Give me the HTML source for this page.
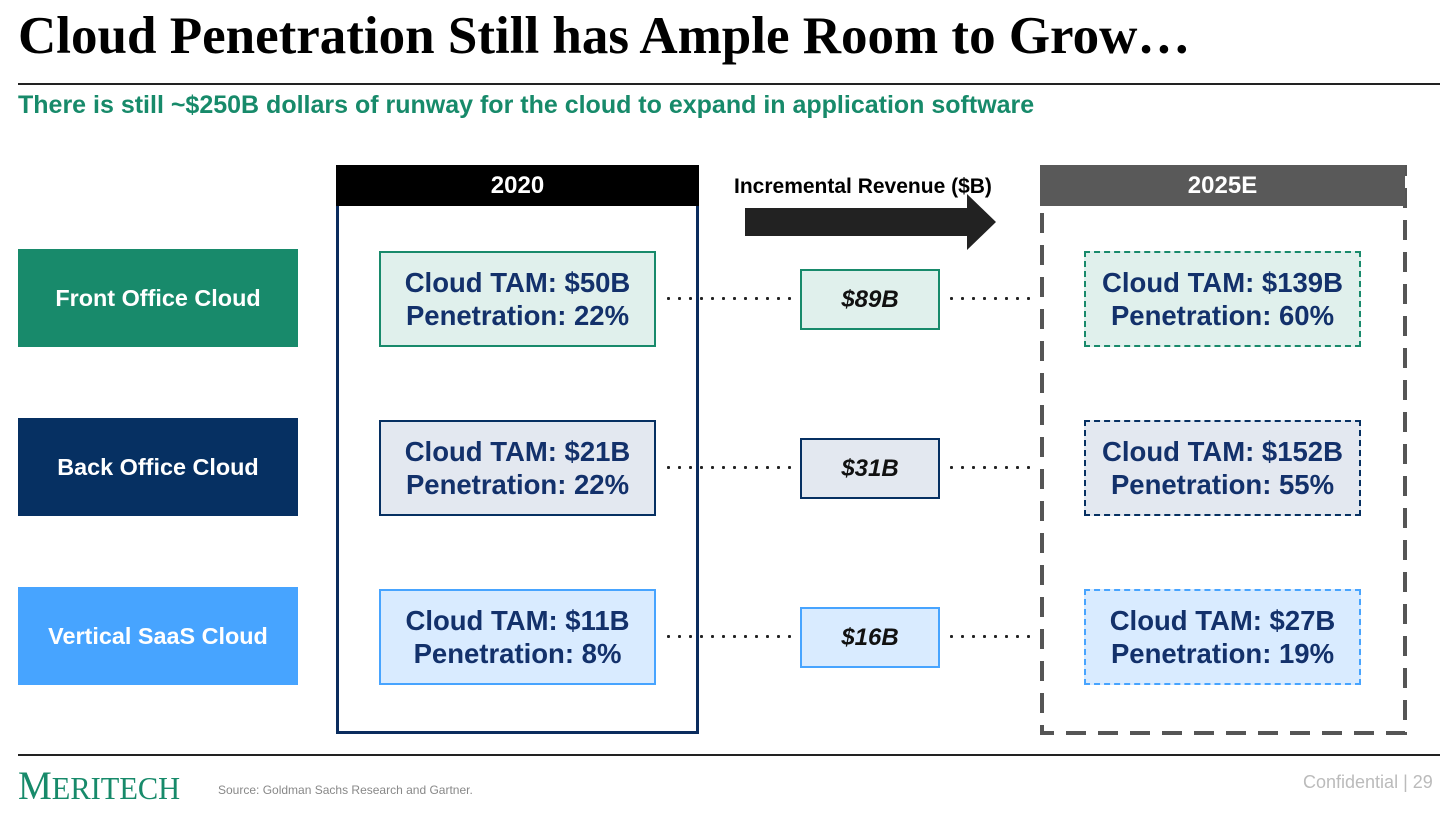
<!DOCTYPE html>
<html><head><meta charset="utf-8"><style>
body{margin:0;width:1456px;height:813px;background:#fff;position:relative;overflow:hidden;font-family:"Liberation Sans",Arial,sans-serif}
div{position:absolute;box-sizing:border-box}
.lab{left:18px;width:280px;height:98px;color:#fff;font-weight:bold;font-size:23.4px;display:flex;align-items:center;justify-content:center}
.tam{width:277px;height:96px;color:#13316b;font-weight:bold;font-size:27.5px;line-height:33px;display:flex;flex-direction:column;align-items:center;justify-content:center;text-align:center}
.inc{left:800px;width:140px;height:61px;color:#111;font-weight:bold;font-style:italic;font-size:24px;display:flex;align-items:center;justify-content:center}
.dot{height:3px;background:radial-gradient(circle at 1.5px 1.5px,#222 1.5px,transparent 1.6px);background-size:11px 3px}
</style></head><body>
<div style="left:18px;top:6px;font-family:'Liberation Serif',serif;font-weight:bold;font-size:53px;white-space:nowrap">Cloud Penetration Still has Ample Room to Grow…</div>
<div style="left:18px;top:83px;width:1422px;height:2px;background:#222"></div>
<div style="left:18px;top:91px;color:#178a6a;font-weight:bold;font-size:25px;white-space:nowrap">There is still ~$250B dollars of runway for the cloud to expand in application software</div>

<div class="lab" style="top:249px;background:#188a6b">Front Office Cloud</div>
<div class="lab" style="top:418px;background:#063062">Back Office Cloud</div>
<div class="lab" style="top:587px;background:#47a4ff">Vertical SaaS Cloud</div>

<div style="left:336px;top:165px;width:363px;height:569px;border:3px solid #0a2c5e"></div>
<div style="left:336px;top:165px;width:363px;height:41px;background:#000;color:#fff;font-weight:bold;font-size:24px;display:flex;align-items:center;justify-content:center">2020</div>

<svg style="position:absolute;left:1040px;top:165px" width="368" height="571"><rect x="2" y="2" width="363" height="566" fill="none" stroke="#555" stroke-width="4" stroke-dasharray="20,12"/></svg>
<div style="left:1040px;top:165px;width:365px;height:41px;background:#595959;color:#fff;font-weight:bold;font-size:24px;display:flex;align-items:center;justify-content:center">2025E</div>

<div style="left:734px;top:175px;font-weight:bold;font-size:21px;white-space:nowrap">Incremental Revenue ($B)</div>
<svg style="position:absolute;left:745px;top:194px" width="252" height="56"><polygon points="0,14 222,14 222,0 251,28 222,56 222,42 0,42" fill="#222"/></svg>

<div class="dot" style="left:667px;top:297px;width:130px"></div>
<div class="dot" style="left:950px;top:297px;width:88px"></div>
<div class="dot" style="left:667px;top:466px;width:130px"></div>
<div class="dot" style="left:950px;top:466px;width:88px"></div>
<div class="dot" style="left:667px;top:635px;width:130px"></div>
<div class="dot" style="left:950px;top:635px;width:88px"></div>

<div class="tam" style="left:379px;top:251px;background:#e0f0ec;border:2px solid #188a6b"><span>Cloud TAM: $50B</span><span>Penetration: 22%</span></div>
<div class="tam" style="left:379px;top:420px;background:#e3e8f0;border:2px solid #063062"><span>Cloud TAM: $21B</span><span>Penetration: 22%</span></div>
<div class="tam" style="left:379px;top:589px;background:#d9ebff;border:2px solid #47a4ff"><span>Cloud TAM: $11B</span><span>Penetration: 8%</span></div>

<div class="inc" style="top:269px;background:#e0f0ec;border:2px solid #188a6b">$89B</div>
<div class="inc" style="top:438px;background:#e3e8f0;border:2px solid #063062">$31B</div>
<div class="inc" style="top:607px;background:#d9ebff;border:2px solid #47a4ff">$16B</div>

<div class="tam" style="left:1084px;top:251px;background:#e0f0ec;border:2px dashed #188a6b"><span>Cloud TAM: $139B</span><span>Penetration: 60%</span></div>
<div class="tam" style="left:1084px;top:420px;background:#e3e8f0;border:2px dashed #063062"><span>Cloud TAM: $152B</span><span>Penetration: 55%</span></div>
<div class="tam" style="left:1084px;top:589px;background:#d9ebff;border:2px dashed #47a4ff"><span>Cloud TAM: $27B</span><span>Penetration: 19%</span></div>

<div style="left:18px;top:754px;width:1422px;height:2px;background:#222"></div>
<div style="left:18px;top:765px;color:#178a6a;font-family:'Liberation Serif',serif;font-size:40px;line-height:42px;white-space:nowrap;transform:scaleX(0.95);transform-origin:left">M<span style="font-size:32px">ERITECH</span></div>
<div style="left:218px;top:783px;color:#888;font-size:12px;white-space:nowrap">Source: Goldman Sachs Research and Gartner.</div>
<div style="left:1303px;top:772px;color:#bbb;font-size:18px;white-space:nowrap">Confidential | 29</div>
</body></html>
